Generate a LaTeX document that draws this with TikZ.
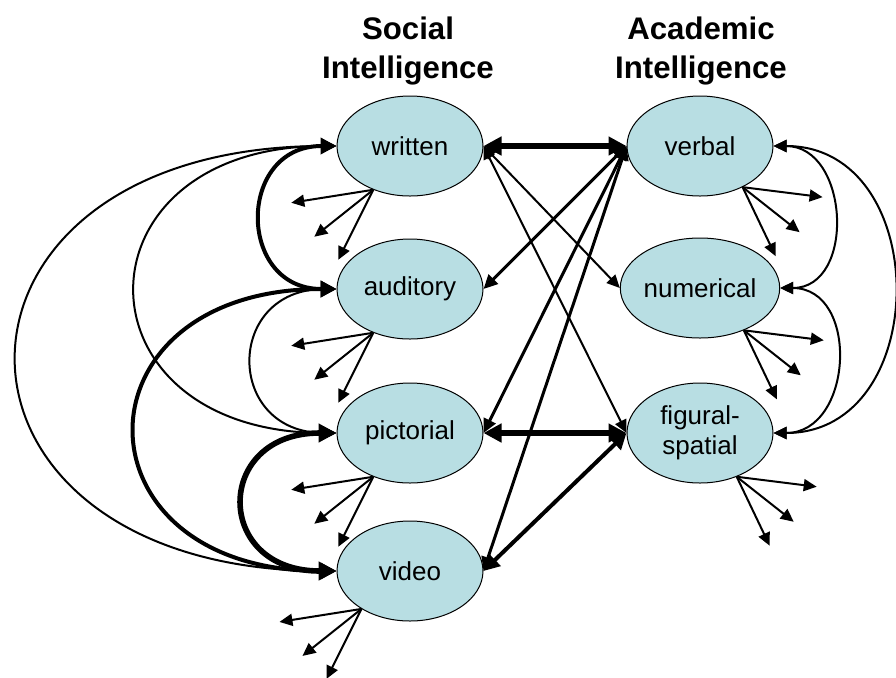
\documentclass[tikz,border=0pt]{standalone}
\usepackage{fontspec}
\setmainfont{Liberation Sans}
\usetikzlibrary{shapes.geometric,arrows.meta}
\definecolor{factorfill}{RGB}{184,222,227}
\tikzset{
  factor/.style={ellipse,draw,line width=0.5pt,fill=factorfill,
    minimum width=73pt,minimum height=50pt,inner sep=0pt,
    align=center,font=\fontsize{13}{15}\selectfont},
  heading/.style={align=center,font=\bfseries\fontsize{15.6}{19.5}\selectfont},
  cov/.style={{Triangle[length=6.5pt,width=6pt]}-{Triangle[length=6.5pt,width=6pt]},line width=1pt},
  covmid/.style={{Triangle[length=7pt,width=6.5pt]}-{Triangle[length=7pt,width=6.5pt]},line width=1.5pt},
  covthick/.style={{Triangle[length=8pt,width=8pt]}-{Triangle[length=8pt,width=8pt]},line width=2pt},
  covheavy/.style={{Triangle[length=9pt,width=9pt]}-{Triangle[length=9pt,width=9pt]},line width=2.8pt},
  resid/.style={-{Triangle[length=6.5pt,width=6pt]},line width=1pt}
}
\begin{document}
\begin{tikzpicture}[x=0.5pt,y=-0.5pt]
  \useasboundingbox (0,0) rectangle (896,677);

  % Headings
  \node[heading] (socialhead) at (408,51) {Social~\\Intelligence};
  \node[heading] (academichead) at (701,51) {Academic~\\Intelligence};

  % Factors
  \node[factor] (written) at (410,146) {written};
  \node[factor] (auditory) at (410,289) {auditory};
  \node[factor] (pictorial) at (410,433) {pictorial};
  \node[factor] (video) at (410,571) {video};
  \node[factor] (verbal) at (700,146) {verbal};
  \node[factor] (numerical) at (700,288) {numerical};
  \node[factor] (figural) at (700,433) {figural-\\spatial};

  % Residuals
  \foreach \n/\a in {written/230,auditory/230,pictorial/230,video/218}
    \foreach \dx/\dy in {-82/13,-59/47,-35/70}
      \draw[resid] (\n.\a) -- ++(\dx,\dy);
  \foreach \n/\a in {verbal/316,numerical/316,figural/310}
    \foreach \dx/\dy in {80/10,57/45,33/69}
      \draw[resid] (\n.\a) -- ++(\dx,\dy);

  % Covariances within social
  \foreach \a/\b/\d/\s in {written/auditory/100/covthick,
      written/pictorial/267/cov, written/video/425/cov,
      auditory/pictorial/112/cov, auditory/video/267/covthick,
      pictorial/video/123/covheavy}
    \draw[\s] (\a.west) .. controls +(-\d,0) and +(-\d,0) .. (\b.west);

  % Covariances within academic
  \foreach \a/\b/\d in {verbal/numerical/76,numerical/figural/80,verbal/figural/160}
    \draw[cov] (\a.east) .. controls +(\d,0) and +(\d,0) .. (\b.east);

  % Social - academic
  \draw[covheavy] (written.east) -- (verbal.west);
  \draw[covheavy] (pictorial.east) -- (figural.west);
  \draw[covmid] (verbal.west) -- (auditory.east);
  \draw[covmid] (verbal.west) -- (pictorial.east);
  \draw[covmid] (verbal.west) -- (video.east);
  \draw[cov] (written.east) -- (numerical.west);
  \draw[cov] (written.east) -- (figural.west);
  \draw[covthick] (video.east) -- (figural.west);
\end{tikzpicture}
\end{document}
